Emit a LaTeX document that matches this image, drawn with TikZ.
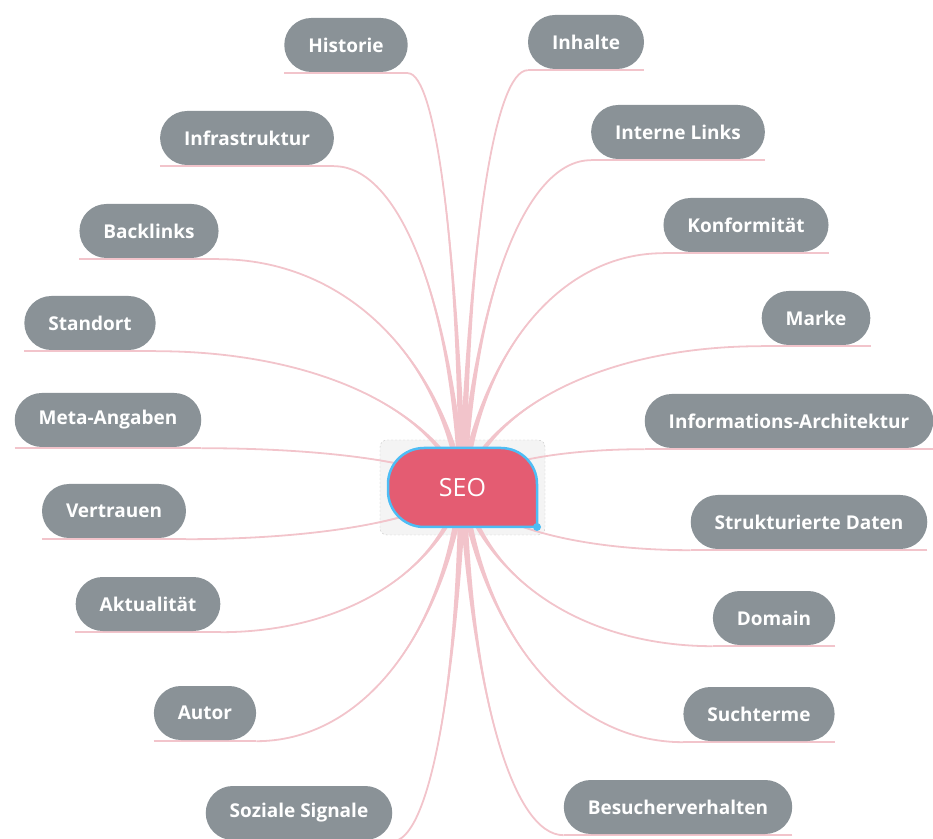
\documentclass[tikz,border=0pt]{standalone}
\usepackage{fontspec}
\setmainfont{Open Sans}
\usepackage{xcolor}
\usetikzlibrary{calc, backgrounds}

\definecolor{leafgray}{HTML}{8A9297}
\definecolor{twigpink}{HTML}{F2C4CB}
\definecolor{seored}{HTML}{E45C72}
\definecolor{seoblue}{HTML}{4DBDF5}

% one branch: node, inner anchor, outer anchor
\newcommand{\twig}[3]{%
  \coordinate (tip) at ([yshift=-1pt]#1.#2);
  \path let \p1=(SEO.center), \p2=(tip) in
    ({\x1+0.1*(\x2-\x1)}, {\y1+0.6*(\y2-\y1)}) coordinate (k1)
    ({\x1+0.5*(\x2-\x1)}, \y2) coordinate (k2);
  \fill[twig] ($(SEO.center)!4pt!90:(k1)$) .. controls (k1) and (k2) .. (tip)
    .. controls (k2) and (k1) .. ($(SEO.center)!4pt!-90:(k1)$) -- cycle;
  \draw[twigline] (SEO.center) .. controls (k1) and (k2) .. (tip);
  \draw[twigline] ([yshift=-1pt]#1.#3) -- (tip);
}

\begin{document}
\begin{tikzpicture}[
    x=1pt, y=1pt,
    leaf/.style={rectangle, fill=leafgray, text=white, rounded corners=27pt, minimum height=54pt, inner xsep=24pt, font=\fontsize{19}{22}\selectfont\bfseries},
    twig/.style={fill=twigpink},
    twigline/.style={draw=twigpink, line width=1.8pt},
    selbox/.style={draw=gray!45, dash pattern=on 2pt off 2pt, fill=gray!9, rounded corners=7pt},
    seoshape/.style={draw=seoblue, line width=2.5pt, fill=seored},
]
\useasboundingbox (0,0) rectangle (933,838);

% === CENTER ===
\node[minimum width=149pt, minimum height=79pt, outer sep=0pt, text=white, font=\fontsize{25}{29}\selectfont] (SEO) at (462.5,350.5) {SEO};

% === LEFT: branches ===
\node[leaf] (hist)   at (346,793) {Historie};
\node[leaf] (infra)  at (247,700) {Infrastruktur};
\node[leaf] (back)   at (149,607) {Backlinks};
\node[leaf] (stand)  at (90,515)  {Standort};
\node[leaf] (meta)   at (108,418) {Meta-Angaben};
\node[leaf] (trust)  at (114,327) {Vertrauen};
\node[leaf] (fresh)  at (148,234) {Aktualität};
\node[leaf] (author) at (205,125) {Autor};
\node[leaf] (social) at (299,25)  {Soziale Signale};

% === RIGHT: branches ===
\node[leaf] (content)  at (586,796) {Inhalte};
\node[leaf] (ilinks)   at (678,706) {Interne Links};
\node[leaf] (conform)  at (746,613) {Konformität};
\node[leaf] (brand)    at (816,520) {Marke};
\node[leaf] (infoarch) at (789,417) {Informations-Architektur};
\node[leaf] (sdata)    at (809,316) {Strukturierte Daten};
\node[leaf] (domain)   at (774,220) {Domain};
\node[leaf] (search)   at (759,124) {Suchterme};
\node[leaf] (visitor)  at (678,31)  {Besucherverhalten};

% --- selection box, connectors and hub shape behind the texts ---
\begin{scope}[on background layer]
\draw[selbox] (380,303) rectangle (545,398);
\foreach \n in {hist,infra,back,stand,meta,trust,fresh,author,social}
  {\twig{\n}{south east}{south west}}
\foreach \n in {content,ilinks,conform,brand,infoarch,sdata,domain,search,visitor}
  {\twig{\n}{south west}{south east}}
\draw[seoshape] (SEO.south east) -- ([xshift=36pt]SEO.south west)
  arc[start angle=270, end angle=180, radius=36pt] -- ([yshift=-36pt]SEO.north west)
  arc[start angle=180, end angle=90, radius=36pt] -- ([xshift=-36pt]SEO.north east)
  arc[start angle=90, end angle=0, radius=36pt] -- cycle;
\fill[seoblue] (SEO.south east) circle[radius=4pt];
\end{scope}

\end{tikzpicture}
\end{document}
